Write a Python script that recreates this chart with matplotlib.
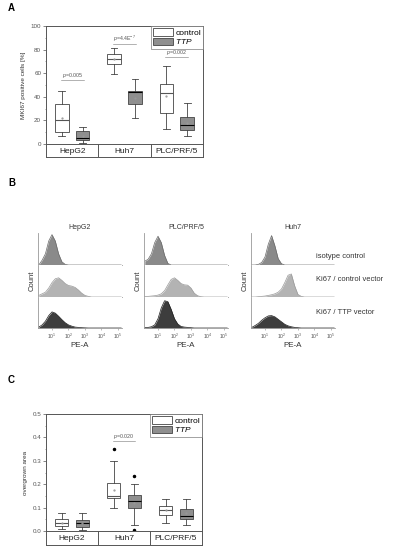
import numpy as np
import matplotlib
matplotlib.use("Agg")
import matplotlib.pyplot as plt
from matplotlib.patches import Patch
from matplotlib.ticker import FormatStrFormatter

plt.rcParams['font.family'] = ['Liberation Sans', 'DejaVu Sans']
plt.rcParams['mathtext.fontset'] = 'custom'
plt.rcParams['mathtext.rm'] = 'Liberation Sans'
plt.rcParams['mathtext.it'] = 'Liberation Sans:italic'

# ---------------- data ----------------
cells = ["HepG2", "Huh7", "PLC/PRF/5"]

# panel A: MKI67 positive cells [%]  (whislo, q1, med, q3, whishi, mean) per cell line
a_control = [(7, 10, 20, 34, 45, 22), (59, 68, 72, 76, 81, 72), (13, 26, 43, 51, 66, 41)]
a_ttp = [(1, 3, 5, 11, 14, 7), (22, 34, 44, 45, 55, 39), (7, 12, 16, 23, 35, 18)]
a_pvals = ["0.005", "4.4E$^{-7}$", "0.002"]
a_pval_y = [54, 85, 74]

# panel C: overgrown area
c_control = [(0.01, 0.02, 0.035, 0.05, 0.075, 0.035), (0.10, 0.14, 0.15, 0.205, 0.30, 0.175),
             (0.033, 0.07, 0.09, 0.107, 0.137, 0.09)]
c_ttp = [(0.005, 0.018, 0.035, 0.045, 0.078, 0.033), (0.025, 0.10, 0.13, 0.155, 0.20, 0.12),
         (0.025, 0.052, 0.065, 0.095, 0.137, 0.075)]
c_control_fliers = [[], [0.35], []]
c_ttp_fliers = [[], [0.235, 0.005], []]
c_pval = "0.020"
c_pval_y = 0.385

# panel B: flow cytometry histograms, x = log10(PE-A), heights relative to row height
logx = [0.2, 0.4, 0.6, 0.8, 1.0, 1.2, 1.4, 1.6, 1.8, 2.0, 2.2, 2.4, 2.6, 2.8, 3.0, 3.2, 3.4, 3.6, 3.8, 4.0,
        4.2, 4.4, 4.6, 4.8, 5.0, 5.2]
hist_titles = ["HepG2", "PLC/PRF/5", "Huh7"]
row_labels = ["isotype control", "Ki67 / control vector", "Ki67 / TTP vector"]
hepg2_iso = [0.0, 0.15, 0.35, 0.75, 0.95, 0.75, 0.35, 0.1, 0.02, 0, 0, 0, 0, 0, 0, 0, 0, 0, 0, 0, 0, 0, 0, 0, 0, 0]
hepg2_ctrl = [0.05, 0.1, 0.15, 0.28, 0.45, 0.57, 0.6, 0.52, 0.42, 0.36, 0.34, 0.3, 0.22, 0.12, 0.05, 0.02, 0, 0,
              0, 0, 0, 0, 0, 0, 0, 0]
hepg2_ttp = [0.03, 0.1, 0.22, 0.4, 0.52, 0.48, 0.38, 0.27, 0.17, 0.1, 0.06, 0.03, 0.02, 0.01, 0.005, 0, 0, 0,
             0, 0, 0, 0, 0, 0, 0, 0]
plc_iso = [0.12, 0.18, 0.35, 0.7, 0.9, 0.7, 0.3, 0.05, 0, 0, 0, 0, 0, 0, 0, 0, 0, 0, 0, 0, 0, 0, 0, 0, 0, 0]
plc_ctrl = [0.02, 0.02, 0.03, 0.04, 0.06, 0.1, 0.2, 0.38, 0.55, 0.6, 0.52, 0.42, 0.38, 0.37, 0.28, 0.12, 0.04,
            0.01, 0, 0, 0, 0, 0, 0, 0, 0]
plc_ttp = [0.01, 0.02, 0.04, 0.1, 0.3, 0.65, 0.88, 0.85, 0.6, 0.3, 0.13, 0.05, 0.03, 0.02, 0.01, 0, 0, 0, 0, 0,
           0, 0, 0, 0, 0, 0]
huh7_iso = [0, 0, 0.02, 0.08, 0.25, 0.65, 0.92, 0.6, 0.2, 0.04, 0, 0, 0, 0, 0, 0, 0, 0, 0, 0, 0, 0, 0, 0, 0, 0]
huh7_ctrl = [0, 0, 0.01, 0.02, 0.03, 0.05, 0.07, 0.1, 0.15, 0.25, 0.45, 0.68, 0.72, 0.35, 0.08, 0.02, 0, 0, 0,
             0, 0, 0, 0, 0, 0, 0]
huh7_ttp = [0.02, 0.08, 0.15, 0.25, 0.33, 0.39, 0.4, 0.36, 0.28, 0.2, 0.12, 0.07, 0.04, 0.02, 0.01, 0, 0, 0, 0,
            0, 0, 0, 0, 0, 0, 0]
hist_data = [[hepg2_iso, hepg2_ctrl, hepg2_ttp], [plc_iso, plc_ctrl, plc_ttp], [huh7_iso, huh7_ctrl, huh7_ttp]]

# ---------------- layout helpers ----------------
W, H = 393, 550
fig = plt.figure(figsize=(W / 100, H / 100), dpi=100)


def rect(x0, y0, x1, y1):
    # pixel box -> figure fraction
    return [x0 / W, 1 - y1 / H, (x1 - x0) / W, (y1 - y0) / H]


edge = "#444444"
tick_col = "#555555"
ttp_fill = "#8f8f8f"


def stats_list(vals, fliers=None):
    out = []
    for i, (lo, q1, med, q3, hi, mean) in enumerate(vals):
        out.append(dict(whislo=lo, q1=q1, med=med, q3=q3, whishi=hi, mean=mean,
                        fliers=fliers[i] if fliers else []))
    return out


def box_panel(main_rect, strip_rect, ctrl, ttp, ylim, yticks, minor, ylabel, pvals, pval_y, pcells,
              ctrl_fliers=None, ttp_fliers=None):
    ax = fig.add_axes(rect(*main_rect))
    pos = np.arange(len(cells)) + 0.5
    for vals, fl, off, fc, mcol in [(ctrl, ctrl_fliers, -0.2, "white", "#555555"),
                                    (ttp, ttp_fliers, 0.2, ttp_fill, "black")]:
        ax.bxp(stats_list(vals, fl), positions=pos + off, widths=0.26, capwidths=0.13,
               showmeans=True, patch_artist=True,
               boxprops=dict(facecolor=fc, edgecolor=edge, linewidth=0.6),
               whiskerprops=dict(color=edge, linewidth=0.6),
               capprops=dict(color=edge, linewidth=0.6),
               medianprops=dict(color=mcol, linewidth=0.8),
               meanprops=dict(marker=".", markersize=1.2, markerfacecolor="#999999",
                              markeredgecolor="#999999"),
               flierprops=dict(marker="o", markersize=1.5, markerfacecolor="black",
                               markeredgecolor="black"))
    ax.set_xlim(0, 3)
    ax.set_ylim(*ylim)
    ax.set_xticks([])
    ax.set_yticks(yticks)
    ax.set_yticks(minor, minor=True)
    ax.tick_params(axis="y", which="major", direction="out", length=2, width=0.5, labelsize=4.5,
                   labelcolor=tick_col, color=tick_col, pad=1.5)
    ax.tick_params(axis="y", which="minor", direction="out", length=1, width=0.4, color=tick_col)
    ax.set_ylabel(ylabel, fontsize=4.6, color="#333333", labelpad=3)
    for s in ax.spines.values():
        s.set_color(tick_col)
        s.set_linewidth(0.7)
    # p-values, underlined
    for cell_i, ptxt, py in zip(pcells, pvals, pval_y):
        ax.text(cell_i + 0.5, py, "$\\it{p}$=" + ptxt, ha="center", va="bottom", fontsize=3.8,
                color="#555555")
        ax.plot([cell_i + 0.5 - 0.22, cell_i + 0.5 + 0.22], [py, py], color="#777777", lw=0.4)
    handles = [Patch(facecolor="white", edgecolor=edge, linewidth=0.6),
               Patch(facecolor=ttp_fill, edgecolor=edge, linewidth=0.6)]
    leg = ax.legend(handles, ["control", "$\\it{TTP}$"], loc="upper right", fontsize=6,
                    frameon=True, fancybox=False, borderaxespad=0, handlelength=2.4,
                    handleheight=1.0, handletextpad=0.3, labelspacing=0.1, borderpad=0.25)
    leg.get_frame().set_edgecolor("#777777")
    leg.get_frame().set_linewidth(0.6)

    # category strip under the plot
    st = fig.add_axes(rect(*strip_rect))
    st.set_xlim(0, 3)
    st.set_ylim(0, 1)
    st.set_xticks([])
    st.set_yticks([])
    for s in st.spines.values():
        s.set_color(tick_col)
        s.set_linewidth(0.7)
    for i, c in enumerate(cells):
        st.text(i + 0.5, 0.45, c, ha="center", va="center", fontsize=6, color="#222222")
        if i > 0:
            st.axvline(i, color=tick_col, lw=0.7)
    return ax


# ---------------- panel A ----------------
fig.text(8 / W, 1 - 8 / H, "A", fontsize=7, fontweight="bold", va="center")
box_panel((46, 26, 203, 144), (46, 144, 203, 157), a_control, a_ttp, (0, 100),
          [0, 20, 40, 60, 80, 100], [10, 30, 50, 70, 90], "MKI67 positive cells [%]",
          a_pvals, a_pval_y, [0, 1, 2])

# ---------------- panel B ----------------
fig.text(8 / W, 1 - 183 / H, "B", fontsize=7, fontweight="bold", va="center")
col_left = [38, 144, 251]
col_w = 84
row_edges = [233, 265, 297, 328]
label_x = 316
fills = ["#8a8a8a", "#b3b3b3", "#3d3d3d"]
lines = ["#6a6a6a", "#999999", "#1e1e1e"]
xmin, xmax = 0.15, 5.25
for ci in range(3):
    x0 = col_left[ci]
    for ri in range(3):
        ax = fig.add_axes(rect(x0, row_edges[ri], x0 + col_w, row_edges[ri + 1]))
        yv = hist_data[ci][ri]
        ax.fill_between(logx, 0, yv, color=fills[ri], lw=0)
        ax.plot(logx, yv, color=lines[ri], lw=0.5)
        ax.set_xlim(xmin, xmax)
        ax.set_ylim(0, 1)
        ax.set_yticks([])
        for side in ["top", "right"]:
            ax.spines[side].set_visible(False)
        ax.spines["left"].set_color("#999999")
        ax.spines["bottom"].set_color("#999999")
        ax.spines["left"].set_linewidth(0.6)
        ax.spines["bottom"].set_linewidth(0.6)
        if ri == 2:
            ax.set_xticks([1, 2, 3, 4, 5])
            ax.set_xticklabels(["$10^{%d}$" % k for k in range(1, 6)])
            ax.tick_params(axis="x", length=1.5, width=0.4, color="#888888", labelsize=3.6,
                           labelcolor="#555555", pad=1)
            ax.set_xlabel("PE-A", fontsize=5.8, color="#333333", labelpad=1)
        else:
            ax.set_xticks([])
            if ci == 2:
                # the row labels sit over the right end of the Huh7 rows
                x_end = xmin + (label_x - 2 - x0) / col_w * (xmax - xmin)
                ax.spines["bottom"].set_bounds(xmin, x_end)
        if ri == 0:
            ax.set_title(hist_titles[ci], fontsize=5, color="#333333", pad=3)
        if ri == 1:
            ax.set_ylabel("Count", fontsize=5.5, color="#333333", labelpad=2)
label_y = [257, 280, 313]
for lab, yc in zip(row_labels, label_y):
    fig.text(label_x / W, 1 - yc / H, lab, fontsize=5.4, color="#333333", va="center")

# ---------------- panel C ----------------
fig.text(8 / W, 1 - 380 / H, "C", fontsize=7, fontweight="bold", va="center")
axc = box_panel((46, 414, 202, 531), (46, 531, 202, 545), c_control, c_ttp, (0, 0.5),
                [0.0, 0.1, 0.2, 0.3, 0.4, 0.5], [0.05, 0.15, 0.25, 0.35, 0.45], "overgrown area",
                [c_pval], [c_pval_y], [1], c_control_fliers, c_ttp_fliers)
axc.yaxis.set_major_formatter(FormatStrFormatter("%.1f"))

fig.savefig("out.png", dpi=100)
